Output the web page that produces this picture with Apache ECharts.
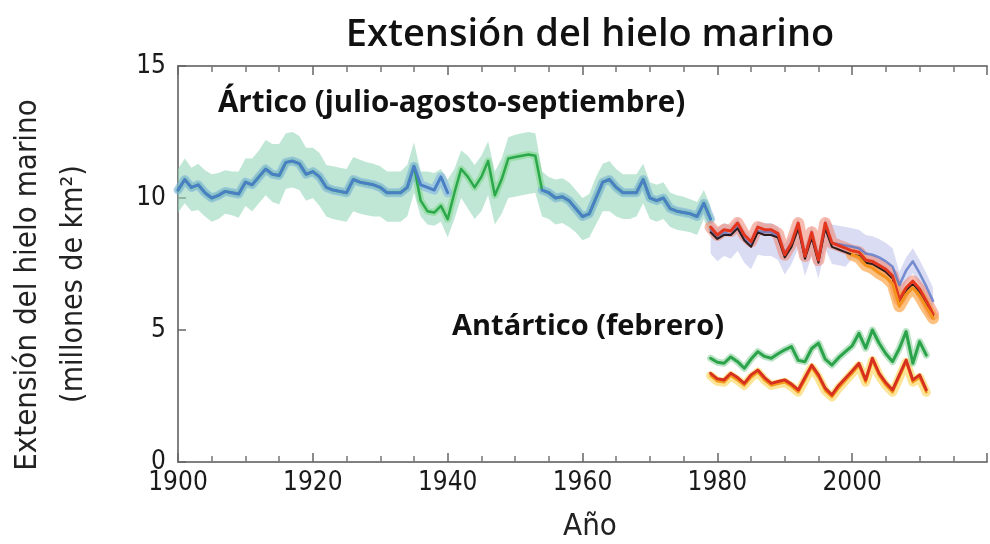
<!DOCTYPE html>
<html><head><meta charset="utf-8">
<script src="https://cdn.jsdelivr.net/npm/echarts@6/dist/echarts.min.js"></script>
<style>html,body{margin:0;padding:0;background:#fff}#c{width:990px;height:544px}</style>
</head><body><div id="c"></div>
<script>
// ---- data ----
const arcticStart = 1900;
const arcticBlue = [
 10.3,10.7,10.4,10.5,10.2,10.0,10.1,10.25,10.2,10.15,
 10.6,10.5,10.8,11.1,10.9,10.85,11.35,11.4,11.3,10.9,
 11.0,10.8,10.4,10.3,10.25,10.2,10.7,10.6,10.55,10.5,
 10.4,10.2,10.2,10.2,10.4,11.2,10.5,10.4,10.3,10.8,
 10.2,null,null,null,null,null,null,null,null,null,
 null,null,null,null,10.3,10.2,10.0,10.05,9.9,9.6,
 9.3,9.4,10.0,10.6,10.7,10.4,10.2,10.2,10.2,10.7,
 10.0,9.9,10.0,9.6,9.5,9.45,9.4,9.3,9.8,9.2];
const arcticGreen = [
 10.3,10.7,10.4,10.5,10.2,10.0,10.1,10.25,10.2,10.15,
 10.6,10.5,10.8,11.1,10.9,10.85,11.35,11.4,11.3,10.9,
 11.0,10.8,10.4,10.3,10.25,10.2,10.7,10.6,10.55,10.5,
 10.4,10.2,10.2,10.2,10.4,11.2,9.9,9.5,9.45,9.7,
 9.2,10.2,11.1,10.8,10.4,10.8,11.4,10.1,10.7,11.5,
 11.55,11.6,11.65,11.6,10.3,10.2,10.0,10.05,9.9,9.6,
 9.3,9.4,10.0,10.6,10.7,10.4,10.2,10.2,10.2,10.7,
 10.0,9.9,10.0,9.6,9.5,9.45,9.4,9.3,9.8,9.2];
const arcticBandUp = [
 0.8,0.8,0.75,0.8,0.85,0.9,0.85,0.8,0.8,0.85,
 0.9,1.0,1.0,1.1,1.15,1.2,1.1,1.1,1.05,1.0,
 0.9,0.9,0.85,0.9,0.9,0.9,0.85,0.85,0.8,0.8,
 0.8,0.8,0.8,0.8,0.85,0.9,1.1,1.5,1.5,1.4,
 1.5,0.9,0.7,0.8,0.85,0.8,0.75,0.9,0.8,0.8,
 0.85,0.85,0.85,0.85,0.7,0.6,0.7,0.7,0.7,0.7,
 0.7,0.75,0.8,0.7,0.7,0.7,0.7,0.7,0.7,0.6,
 0.6,0.6,0.6,0.6,0.6,0.6,0.55,0.55,0.5,0.5];
const arcticBandDown = [
 0.85,0.9,0.9,0.95,0.9,0.9,0.9,0.85,0.85,0.9,
 0.9,1.0,1.0,1.0,1.05,1.1,1.0,1.0,1.0,1.0,
 1.0,1.1,1.1,1.1,1.1,1.1,1.2,1.2,1.2,1.2,
 1.1,1.1,1.1,1.1,1.1,1.0,0.6,0.5,0.5,0.6,
 0.7,1.0,1.1,1.2,1.2,1.3,1.3,1.1,1.3,1.5,
 1.5,1.5,1.5,1.4,1.0,1.0,1.0,1.0,1.0,0.9,
 0.9,0.9,1.0,1.1,1.2,1.1,1.0,1.0,0.9,0.9,
 0.8,0.8,0.8,0.7,0.7,0.7,0.7,0.7,0.6,0.6];

const modernStart = 1979;
const modernRed = [8.9,8.6,8.8,8.75,9.05,8.6,8.35,8.9,8.8,8.8,8.65,7.85,8.3,9.05,7.8,8.7,7.65,9.05,8.3,8.2,8.1,8.0,7.95,7.65,7.6,7.45,7.3,7.05,6.15,6.6,6.85,6.55,6.1,5.6];
const modernBlack = [8.7,8.45,8.6,8.6,8.85,8.4,8.15,8.7,8.6,8.6,8.5,7.75,8.15,8.85,7.7,8.5,7.55,8.85,8.15,8.05,7.95,7.85,7.8,7.55,7.5,7.35,7.2,6.95,6.1,6.5,6.75,6.45,6.0,5.55];
const modernBlue = [8.8,8.5,8.7,8.6,8.9,8.45,8.2,8.75,8.7,8.7,8.55,7.9,8.3,8.9,7.85,8.6,7.75,8.9,8.3,8.25,8.2,8.15,8.1,7.9,7.85,7.75,7.6,7.4,6.7,7.25,7.6,7.15,6.65,6.1];
const modernBandUp = [0.35,0.35,0.35,0.35,0.35,0.35,0.35,0.35,0.35,0.35,0.35,0.35,0.35,0.35,0.35,0.35,0.35,0.35,0.7,0.7,0.7,0.7,0.7,0.7,0.7,0.7,0.7,0.7,0.5,0.5,0.5,0.5,0.5,0.5];
const modernBandDown = [0.9,0.9,0.9,0.9,0.9,0.9,0.9,0.9,0.9,0.9,0.9,0.8,0.8,0.8,0.8,0.8,0.8,0.8,0.8,0.8,0.8,0.45,0.45,0.45,0.45,0.45,0.45,0.45,0.45,0.45,0.45,0.45,0.45,0.45];
const orangeStart = 2000;
const modernOrange = [7.85,7.75,7.45,7.35,7.15,7.0,6.75,5.9,6.35,6.6,6.3,5.85,5.45];

const antStart = 1979;
const antGreen = [3.93,3.78,3.74,3.98,3.8,3.55,3.9,4.18,4.0,3.93,4.1,4.25,4.37,3.85,3.8,4.3,4.5,3.9,3.67,3.95,4.18,4.4,4.87,4.31,5.0,4.5,4.1,3.8,4.3,4.94,3.74,4.56,4.05];
const antRed = [3.36,3.15,3.11,3.36,3.2,2.98,3.3,3.48,3.2,2.98,3.05,3.11,2.95,2.73,3.2,3.67,3.3,2.8,2.54,2.9,3.17,3.45,3.74,3.11,3.93,3.36,3.0,2.73,3.3,3.86,3.11,3.3,2.73];
const antOrange = [3.27,3.06,3.02,3.27,3.1,2.9,3.2,3.4,3.1,2.9,2.96,3.02,2.86,2.64,3.1,3.58,3.2,2.7,2.46,2.8,3.08,3.36,3.65,3.02,3.84,3.27,2.9,2.64,3.2,3.78,3.02,3.2,2.64];

const xMin = 1900, xMax = 2020, xStep = 20;
const yMin = 0, yMax = 15, yStep = 5;

// ---- build ----
function pairs(start, arr){ return arr.map((v,i)=>[start+i, v]); }

const NARROW = "'Liberation Sans Narrow','DejaVu Sans Condensed','Noto Sans',sans-serif";
const SANS = "'Open Sans','Noto Sans',sans-serif";

function line(name, data, color, width, z){
  return {name, type:'line', data, symbol:'none', silent:true, z,
    lineStyle:{color, width, join:'round', cap:'round'}, connectNulls:false, animation:false};
}
// uncertainty band drawn as one polygon through the axes' own coordinate mapping
function band(start, center, up, down, color, z){
  const pts = center.map((v,i)=>[start+i, +(v-down[i]).toFixed(3), +(v+up[i]).toFixed(3)]);
  return {type:'custom', silent:true, z, data:pts, encode:{x:0, y:[1,2]}, animation:false,
    renderItem:(params, api)=>{
      if(params.dataIndex!==0) return null;
      const top = pts.map(p=>api.coord([p[0], p[2]]));
      const bot = pts.map(p=>api.coord([p[0], p[1]])).reverse();
      return {type:'polygon', shape:{points: top.concat(bot)}, style:{fill:color}};
    }};
}

const chart = echarts.init(document.getElementById('c'), null, {renderer:'canvas'});
const baseX = {type:'value', min:xMin, max:xMax, interval:xStep, splitLine:{show:false}};
chart.setOption({
  animation:false,
  backgroundColor:'#fff',
  grid:{left:178, right:-13, top:66, bottom:82, containLabel:false},
  xAxis:[
    Object.assign({}, baseX, {position:'bottom',
      axisLine:{show:true, lineStyle:{color:'#808080', width:2}},
      axisTick:{show:true, inside:true, length:9, lineStyle:{color:'#666', width:1.5}},
      minorTick:{show:true, splitNumber:4, length:6, lineStyle:{color:'#777', width:1.5}},
      axisLabel:{show:true, margin:8, color:'#1a1a1a', fontFamily:NARROW, fontSize:26,
        formatter:v=> (v>=2010?'':String(v))}
    }),
    Object.assign({}, baseX, {position:'top',
      axisLine:{show:true, lineStyle:{color:'#808080', width:2}},
      axisTick:{show:true, inside:true, length:9, lineStyle:{color:'#666', width:1.5}},
      minorTick:{show:true, splitNumber:4, length:6, lineStyle:{color:'#777', width:1.5}},
      axisLabel:{show:false}
    })
  ],
  yAxis:[{type:'value', min:yMin, max:yMax, interval:yStep, position:'left',
    axisLine:{show:true, lineStyle:{color:'#808080', width:2}},
    axisTick:{show:true, inside:true, length:8, lineStyle:{color:'#666', width:1.5}},
    splitLine:{show:false},
    axisLabel:{margin:12, color:'#1a1a1a', fontFamily:NARROW, fontSize:26}
  }],
  series:[
    band(arcticStart, arcticGreen, arcticBandUp, arcticBandDown, 'rgba(150,215,185,0.6)', 1),
    line('greenHalo', pairs(arcticStart, arcticGreen), 'rgba(110,210,120,0.45)', 7, 2),
    line('blueHalo', pairs(arcticStart, arcticBlue), 'rgba(120,170,230,0.5)', 9, 2),
    line('green', pairs(arcticStart, arcticGreen), '#2aa84a', 2.5, 3),
    line('blue', pairs(arcticStart, arcticBlue), '#4b7fc4', 3, 4),

    band(modernStart, modernBlue, modernBandUp, modernBandDown, 'rgba(185,192,232,0.55)', 1),
    line('redHalo', pairs(modernStart, modernRed), 'rgba(240,130,110,0.55)', 12, 2),
    line('orangeHalo', pairs(orangeStart, modernOrange), 'rgba(250,160,60,0.65)', 12, 2),
    line('modernBlue', pairs(modernStart, modernBlue), 'rgba(91,120,200,0.8)', 2.5, 3),
    line('black', pairs(modernStart, modernBlack), '#2b1d1d', 2, 4),
    line('red', pairs(modernStart, modernRed), '#e3361f', 3, 5),
    line('orange', pairs(orangeStart, modernOrange), '#f5921e', 3, 6),

    line('antYellowHalo', pairs(antStart, antOrange), 'rgba(250,210,80,0.6)', 9, 2),
    line('antOrange', pairs(antStart, antOrange), '#f39a1e', 2.5, 3),
    line('antRed', pairs(antStart, antRed), '#d7301f', 3, 4),
    line('antGreenHalo', pairs(antStart, antGreen), 'rgba(120,200,140,0.5)', 7, 3),
    line('antGreen', pairs(antStart, antGreen), '#2ba34a', 3, 5)
  ],
  graphic:[
    {type:'text', x:590, y:35, style:{text:'Extensión del hielo marino', fill:'#111', font:"600 38px "+SANS, textAlign:'center', textVerticalAlign:'middle'}},
    {type:'text', x:218, y:104, style:{text:'Ártico (julio-agosto-septiembre)', fill:'#111', font:"bold 29.5px "+SANS, textAlign:'left', textVerticalAlign:'middle'}},
    {type:'text', x:452, y:327, style:{text:'Antártico (febrero)', fill:'#111', font:"bold 29px "+SANS, textAlign:'left', textVerticalAlign:'middle'}},
    {type:'text', x:28, y:285, rotation:Math.PI/2, style:{text:'Extensión del hielo marino', fill:'#222', font:"31px "+NARROW, textAlign:'center', textVerticalAlign:'middle'}},
    {type:'text', x:74, y:284, rotation:Math.PI/2, style:{text:'(millones de km²)', fill:'#222', font:"30px "+NARROW, textAlign:'center', textVerticalAlign:'middle'}},
    {type:'text', x:590, y:527, style:{text:'Año', fill:'#222', font:"31px "+NARROW, textAlign:'center', textVerticalAlign:'middle'}}
  ]
});
</script></body></html>
